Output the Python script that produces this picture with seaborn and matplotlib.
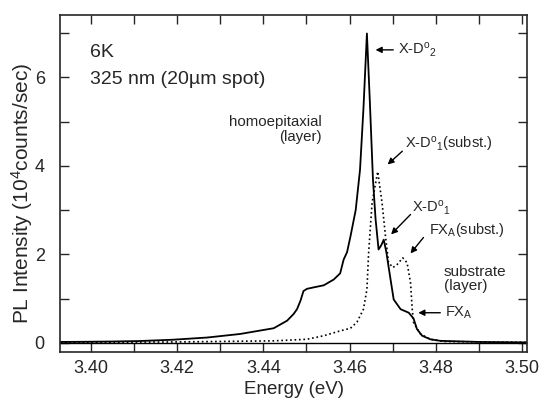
import numpy as np
import pandas as pd
import matplotlib
matplotlib.use("Agg")
import matplotlib.pyplot as plt
import seaborn as sns
from matplotlib.ticker import MultipleLocator, FormatStrFormatter

# homoepitaxial layer spectrum (solid)
energy_layer = [3.393, 3.400, 3.405, 3.411, 3.419, 3.427, 3.4346, 3.4424, 3.4455,
                3.4470, 3.4478, 3.4486, 3.4493, 3.4501, 3.4520, 3.4540, 3.4563,
                3.4578, 3.4586, 3.4594, 3.4602, 3.4614, 3.4624, 3.4632, 3.4640,
                3.4647, 3.4654, 3.4660, 3.4667, 3.4673, 3.4679, 3.4685, 3.4690,
                3.4702, 3.4718, 3.4737, 3.4748, 3.4756, 3.4768, 3.4787, 3.4810,
                3.4900, 3.5010]
intensity_layer = [0.02, 0.025, 0.03, 0.04, 0.07, 0.12, 0.20, 0.33, 0.50,
                   0.65, 0.76, 0.95, 1.17, 1.22, 1.26, 1.30, 1.43,
                   1.57, 1.88, 2.05, 2.41, 3.00, 3.91, 5.30, 6.99,
                   5.40, 3.69, 2.80, 2.11, 2.20, 2.33, 2.05, 1.73,
                   0.98, 0.76, 0.68, 0.55, 0.31, 0.16, 0.08, 0.045,
                   0.02, 0.01]

# substrate spectrum (dotted)
energy_subst = [3.393, 3.420, 3.4424, 3.4501, 3.4540, 3.4578, 3.4602, 3.4617,
                3.4632, 3.4640, 3.4644, 3.4652, 3.4665, 3.4675, 3.4683, 3.4690,
                3.4700, 3.4710, 3.4723, 3.4733, 3.4741, 3.4745, 3.4748, 3.4764,
                3.4787, 3.4820, 3.5010]
intensity_subst = [0.01, 0.02, 0.045, 0.08, 0.16, 0.27, 0.33, 0.47,
                   0.76, 1.21, 2.04, 3.17, 3.87, 3.17, 2.41, 1.82,
                   1.70, 1.77, 1.92, 1.81, 1.36, 0.76, 0.46, 0.20,
                   0.08, 0.03, 0.01]

sns.set_style("ticks")
plt.rcParams['font.family'] = ['Liberation Sans', 'DejaVu Sans']
plt.rcParams['mathtext.fontset'] = 'custom'
plt.rcParams['mathtext.rm'] = 'Liberation Sans'
plt.rcParams['mathtext.it'] = 'Liberation Sans:italic'

df_layer = pd.DataFrame({"Energy": energy_layer, "Intensity": intensity_layer})
df_subst = pd.DataFrame({"Energy": energy_subst, "Intensity": intensity_subst})

fig = plt.figure(figsize=(5.41, 4.03), dpi=100)
ax = fig.add_axes([0.111, 0.127, 0.864, 0.836])

sns.lineplot(data=df_subst, x="Energy", y="Intensity", ax=ax, color="black",
             linestyle=":", linewidth=1.2)
sns.lineplot(data=df_layer, x="Energy", y="Intensity", ax=ax, color="black",
             linewidth=1.3)
ax.axhline(0, color="black", linewidth=1.0, zorder=1)

ax.set_xlim(3.3929, 3.5012)
ax.set_ylim(-0.203, 7.41)
ax.xaxis.set_major_locator(MultipleLocator(0.02))
ax.xaxis.set_minor_locator(MultipleLocator(0.01))
ax.yaxis.set_major_locator(MultipleLocator(2))
ax.yaxis.set_minor_locator(MultipleLocator(1))
ax.xaxis.set_major_formatter(FormatStrFormatter('%.2f'))
ax.tick_params(which="both", direction="in", top=True, right=True,
               length=6.5, width=1.0, labelsize=13)
ax.tick_params(axis="x", pad=6)
ax.tick_params(axis="y", pad=11)
for s in ax.spines.values():
    s.set_linewidth(1.2)

ax.set_xlabel("Energy (eV)", fontsize=13.5)
ax.set_ylabel("PL Intensity (10$^{4}$counts/sec)", fontsize=15)
ax.yaxis.set_label_coords(-0.054, 0.47)
ax.xaxis.set_label_coords(0.5, -0.088)

ax.text(3.3998, 6.55, "6K", fontsize=14, va="center")
ax.text(3.3998, 5.94, "325 nm (20\u00b5m spot)", fontsize=14, va="center")
ax.text(3.4536, 4.82, "homoepitaxial\n(layer)", fontsize=10.8, ha="right",
        va="center", multialignment="right", linespacing=1.05)
ax.text(3.4818, 1.44, "substrate\n(layer)", fontsize=11, ha="left",
        va="center", linespacing=1.05)

labels = [r"X-D$^{\rm o}{}_{\rm 2}$", r"X-D$^{\rm o}{}_{\rm 1}$(subst.)",
          r"X-D$^{\rm o}{}_{\rm 1}$", r"FX$_{\rm A}$(subst.)", r"FX$_{\rm A}$"]
label_pos = [(3.4713, 6.62), (3.4729, 4.48), (3.4745, 3.05), (3.4783, 2.56),
             (3.4822, 0.68)]
arrow_tail = [(3.4701, 6.62), (3.4722, 4.33), (3.4741, 2.90), (3.4771, 2.38),
              (3.4810, 0.68)]
arrow_tip = [(3.4660, 6.62), (3.4688, 4.03), (3.4696, 2.45), (3.4741, 2.02),
             (3.4759, 0.68)]

for lab, pos, tail, tip in zip(labels, label_pos, arrow_tail, arrow_tip):
    ax.text(pos[0], pos[1], lab, fontsize=10.5, ha="left", va="center")
    ax.annotate("", xy=tip, xytext=tail,
                arrowprops=dict(arrowstyle="-|>", color="black", lw=1.0,
                                mutation_scale=9, shrinkA=0, shrinkB=0))

fig.savefig("out.png", dpi=100)
